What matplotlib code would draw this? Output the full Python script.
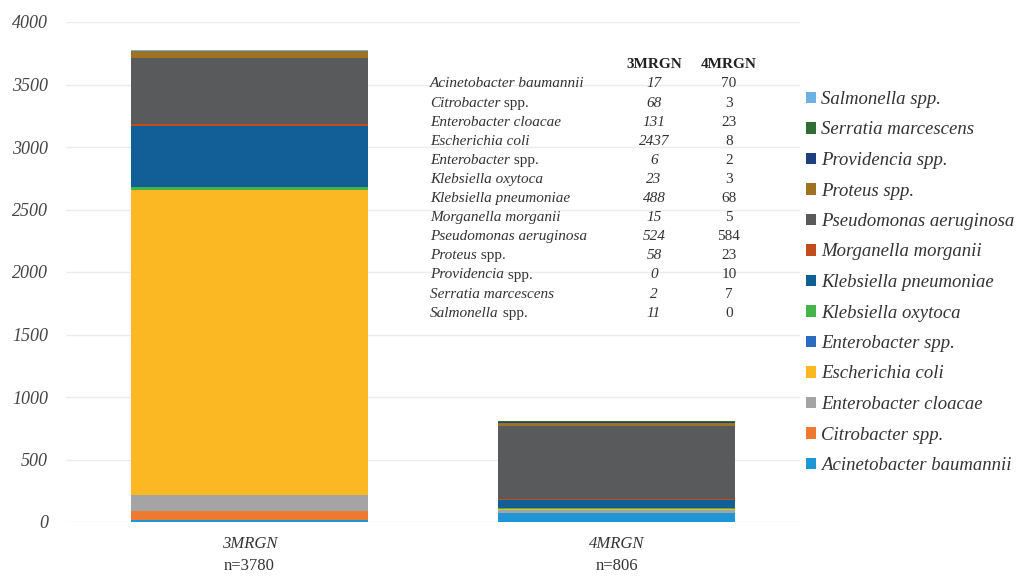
import numpy as np
import matplotlib
matplotlib.use("Agg")
import matplotlib.pyplot as plt

# ----------------------------
# DATA (read from the chart / table)
# ----------------------------
groups = ["3MRGN", "4MRGN"]
group_n = ["n=3780", "n=806"]

species = [
    "Acinetobacter baumannii",
    "Citrobacter spp.",
    "Enterobacter cloacae",
    "Escherichia coli",
    "Enterobacter spp.",
    "Klebsiella oxytoca",
    "Klebsiella pneumoniae",
    "Morganella morganii",
    "Pseudomonas aeruginosa",
    "Proteus spp.",
    "Providencia spp.",
    "Serratia marcescens",
    "Salmonella spp.",
]
counts_3mrgn = [17, 68, 131, 2437, 6, 23, 488, 15, 524, 58, 0, 2, 11]
counts_4mrgn = [70, 3, 23, 8, 2, 3, 68, 5, 584, 23, 10, 7, 0]

colors = [
    "#1f97d6", "#ee7a30", "#a4a4a4", "#fbb822", "#2c6cc0", "#45b549",
    "#125f98", "#c24c1e", "#585a5c", "#9e7220", "#203f80", "#2f6c36",
    "#6cb1e1",
]

yticks = [0, 500, 1000, 1500, 2000, 2500, 3000, 3500, 4000]

SERIF = "Liberation Serif"
TXT = "#333333"

W, H = 1016, 582


def fx(px):
    return px / W


def fy(py):
    return 1 - py / H


def main():
    fig = plt.figure(figsize=(W / 100, H / 100), dpi=100)
    ax = fig.add_axes([fx(66), fy(522), fx(800) - fx(66), fy(22) - fy(522)])

    x = np.arange(len(groups))
    data = np.array([counts_3mrgn, counts_4mrgn]).T  # species x groups
    bottom = np.zeros(len(groups))
    handles = []
    for name, vals, col in zip(species, data, colors):
        b = ax.bar(x, vals, width=0.646, bottom=bottom, color=col,
                   edgecolor="none", label=name, zorder=3)
        handles.append(b)
        bottom += vals

    ax.set_xlim(-0.5, 1.5)
    ax.set_ylim(0, 4000)
    ax.set_yticks(yticks)
    ax.set_yticklabels([str(v) for v in yticks], family=SERIF,
                       style="italic", fontsize=13, color="#444444")
    ax.tick_params(axis="y", length=0, pad=13)
    ax.set_xticks([])
    ax.grid(axis="y", color="#ececec", linewidth=1, zorder=0)
    for s in ax.spines.values():
        s.set_visible(False)

    # category labels, two lines
    for xi, g, n in zip(x, groups, group_n):
        ax.text(xi, -0.044, g, transform=ax.get_xaxis_transform(),
                ha="center", va="center", family=SERIF, style="italic",
                fontsize=12, color=TXT)
        ax.text(xi, -0.088, n, transform=ax.get_xaxis_transform(),
                ha="center", va="center", family=SERIF,
                fontsize=12, color=TXT)

    # legend (reverse order, all italic)
    leg = fig.legend(handles[::-1], species[::-1], loc="upper left",
                     bbox_to_anchor=(fx(806), fy(91)), frameon=False,
                     prop={"family": SERIF, "style": "italic", "size": 13.5},
                     handlelength=0.55, handleheight=0.55, handletextpad=0.25,
                     labelspacing=0.72, borderpad=0, borderaxespad=0)
    for t in leg.get_texts():
        t.set_color(TXT)

    # in-chart table
    col3_x, col4_x, name_x = 654, 729, 430
    hdr_y, row0_y, row_dy = 64, 84, 19.1
    fig.text(fx(col3_x), fy(hdr_y), groups[0], ha="center", va="center",
             family=SERIF, weight="bold", fontsize=11, color="#222222")
    fig.text(fx(col4_x), fy(hdr_y), groups[1], ha="center", va="center",
             family=SERIF, weight="bold", fontsize=11, color="#222222")
    for i, name in enumerate(species):
        y = fy(row0_y + i * row_dy)
        if name.endswith(" spp."):
            # genus italic, "spp." upright
            t = fig.text(fx(name_x), y, name[:-5], ha="left", va="center",
                         family=SERIF, style="italic", fontsize=11, color=TXT)
            ax.annotate(" spp.", xy=(1, 0), xycoords=t, ha="left",
                        va="bottom", family=SERIF, fontsize=11, color=TXT,
                        annotation_clip=False)
        else:
            fig.text(fx(name_x), y, name, ha="left", va="center",
                     family=SERIF, style="italic", fontsize=11, color=TXT)
        fig.text(fx(col3_x), y, str(counts_3mrgn[i]), ha="center", va="center",
                 family=SERIF, style="italic", fontsize=11, color=TXT)
        fig.text(fx(col4_x), y, str(counts_4mrgn[i]), ha="center", va="center",
                 family=SERIF, fontsize=11, color=TXT)

    fig.savefig("out.png", dpi=100)
    plt.close(fig)


if __name__ == "__main__":
    main()
